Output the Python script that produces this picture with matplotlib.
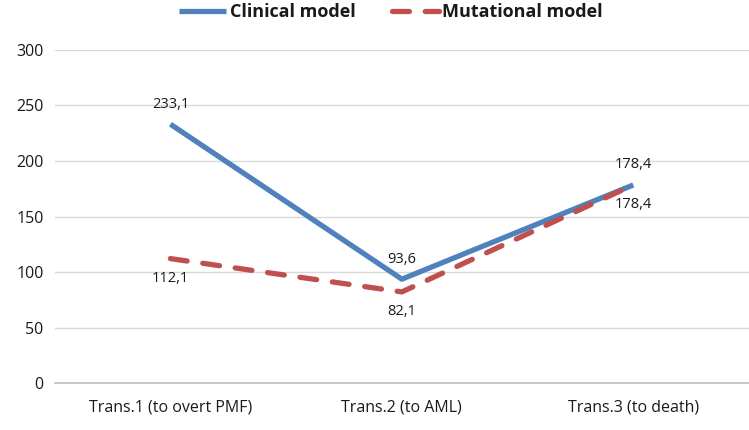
import matplotlib.pyplot as plt

categories = ["Trans.1 (to overt PMF)", "Trans.2 (to AML)", "Trans.3 (to death)"]
clinical = [233.1, 93.6, 178.4]
mutational = [112.1, 82.1, 178.4]
clin_labels = ["233,1", "93,6", "178,4"]
mut_labels = ["112,1", "82,1", "178,4"]

plt.rcParams["font.family"] = ["Open Sans", "DejaVu Sans"]
plt.rcParams["text.color"] = "#1a1a1a"

fig = plt.figure(figsize=(7.49, 4.30), dpi=100)
ax = fig.add_axes([0.073, 0.109, 0.927, 0.775])

x = list(range(len(categories)))
ax.plot(x, clinical, color="#4F81BD", lw=3.8, solid_capstyle="butt", label="Clinical model", zorder=3)
ax.plot(x, mutational, color="#C0504D", lw=3.8, ls=(0, (3.2, 3.0)), dash_capstyle="round",
        label="Mutational model", zorder=3)

for i, (v, t) in enumerate(zip(clinical, clin_labels)):
    ax.annotate(t, (i, v), xytext=(0, 9), textcoords="offset points", ha="center", va="bottom", fontsize=10.5)
for i, (v, t) in enumerate(zip(mutational, mut_labels)):
    ax.annotate(t, (i, v), xytext=(0, -9), textcoords="offset points", ha="center", va="top", fontsize=10.5)

ax.set_xlim(-0.5, 2.5)
ax.set_ylim(0, 300)
ax.set_yticks(range(0, 301, 50))
ax.set_xticks(x)
ax.set_xticklabels(categories)
ax.yaxis.grid(True, color="#D9D9D9", lw=1)
ax.set_axisbelow(True)
for s in ["top", "right", "left"]:
    ax.spines[s].set_visible(False)
ax.spines["bottom"].set_color("#BFBFBF")
ax.spines["bottom"].set_linewidth(1.2)
ax.tick_params(axis="both", length=0, labelsize=11.5, pad=8, labelcolor="#1a1a1a")
ax.tick_params(axis="x", pad=12)

leg = fig.legend(loc="upper center", bbox_to_anchor=(0.522, 1.03), ncol=2, frameon=False,
                 prop={"weight": "bold", "size": 13}, handlelength=2.6, columnspacing=2.0,
                 handletextpad=0.2)

fig.savefig("out.png", dpi=100)
